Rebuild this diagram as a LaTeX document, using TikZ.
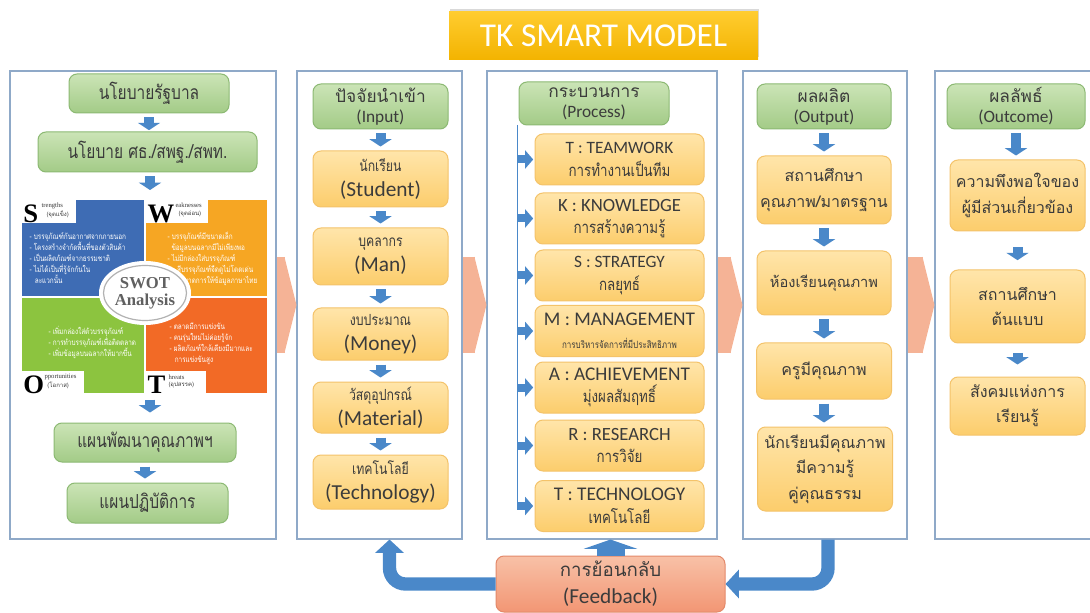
\documentclass[tikz,border=0pt]{standalone}
\usepackage{fontspec}
\setmainfont{Carlito}
\newfontfamily\thai[Script=Thai]{Loma}
\newfontfamily\thain[Script=Thai,FakeStretch=0.8]{Loma}
\newfontfamily\swotrm{Liberation Serif}
\usetikzlibrary{arrows.meta,calc,shadows}

\definecolor{panelblue}{HTML}{8FA9C8}
\definecolor{arrowblue}{HTML}{4A88C9}
\definecolor{greentop}{HTML}{CBE4B6}
\definecolor{greenbot}{HTML}{A3CB87}
\definecolor{greenline}{HTML}{8CB973}
\definecolor{orangetop}{HTML}{FFE5AA}
\definecolor{orangebot}{HTML}{FCCD6C}
\definecolor{orangeline}{HTML}{F4C36A}
\definecolor{salmon}{HTML}{F5B396}
\definecolor{fbtop}{HTML}{F8C1A7}
\definecolor{fbbot}{HTML}{F29674}
\definecolor{fbline}{HTML}{E3896A}
\definecolor{titletop}{HTML}{FFCC2F}
\definecolor{titlebot}{HTML}{F3B300}
\definecolor{txt}{HTML}{3B3B3B}
\definecolor{swotS}{HTML}{3E6CB4}
\definecolor{swotW}{HTML}{F6A623}
\definecolor{swotO}{HTML}{8CC43F}
\definecolor{swotT}{HTML}{F26A26}

\tikzset{every picture/.style={line width=0.75pt}}

\begin{document}
\begin{tikzpicture}[x=0.75pt,y=0.75pt,yscale=-1,xscale=1,
  panel/.style={draw=panelblue,fill=white,line width=0.8pt,minimum height=351pt,inner sep=0pt},
  gbox/.style={draw=greenline,top color=greentop,bottom color=greenbot,rounded corners=6pt,align=center,text=txt,inner sep=0pt},
  obox/.style={draw=orangeline,top color=orangetop,bottom color=orangebot,rounded corners=6pt,align=center,text=txt,inner sep=0pt},
  hdr/.style={gbox,font=\fontsize{13}{15}\selectfont},
  inbox/.style={obox,minimum width=101.25pt,font=\fontsize{16}{19}\selectfont},
  tkbox/.style={obox,minimum width=126.75pt,minimum height=38.25pt,font=\fontsize{14}{17}\selectfont},
  thbox/.style={obox,font=\thai\fontsize{12}{19}\selectfont},
  lbox/.style={gbox,font=\thain\fontsize{14.5}{18}\selectfont},
  dnarrow/.style={draw=arrowblue,line width=7.5pt,-{Triangle[length=5.5pt,width=16.5pt]},shorten <=3pt,shorten >=3pt},
  sidearrow/.style={draw=arrowblue,line width=6pt,-{Triangle[length=6pt,width=13.5pt]},shorten >=1pt},
  bigarrow/.style={draw=salmon,line width=72pt,-{Triangle[length=9pt,width=72pt]}},
  fbarrow/.style={draw=arrowblue,line width=10pt,-{Triangle[length=10pt,width=21pt]},rounded corners=12pt},
  uparrow/.style={draw=arrowblue,line width=21pt,-{Triangle[length=7pt,width=40pt]}},
  swottxt/.style={text=white,font=\thain\fontsize{6}{8.25}\selectfont,align=left,inner sep=0pt,anchor=north west},
  swotlet/.style={font=\swotrm\bfseries\fontsize{20}{20}\selectfont,inner sep=0pt},
  swotsub/.style={font=\swotrm\fontsize{5}{5}\selectfont,inner sep=0pt,anchor=north west,text=txt},
  swotth/.style={font=\thai\fontsize{4.5}{4.5}\selectfont,inner sep=0pt,anchor=north west,text=txt}
]
\useasboundingbox (0,0) rectangle (1090,613);

%title
\node[top color=titletop,bottom color=titlebot,text=white,font=\fontsize{25}{25}\selectfont,
  minimum width=231.75pt,minimum height=36pt,inner sep=0pt,
  drop shadow={shadow xshift=1pt,shadow yshift=2pt,opacity=0.3}] (title) at (603.5,36) {TK SMART MODEL};

%panels
\node[panel,minimum width=199.5pt] (p1) at (143,305) {};
\node[panel,minimum width=123.75pt] (p2) at (379.5,305) {};
\node[panel,minimum width=172.5pt] (p3) at (602,305) {};
\node[panel,minimum width=123pt] (p4) at (825,305) {};
\node[panel,minimum width=123.75pt] (p5) at (1017.5,305) {};

\draw[bigarrow] (p1.east) -- (p2.west);
\draw[bigarrow] (p2.east) -- (p3.west);
\draw[bigarrow] (p3.east) -- (p4.west);
\draw[bigarrow] (p4.east) -- (p5.west);

%left column
\node[lbox,minimum width=120pt,minimum height=29.25pt] (gov) at (149,93.5) {นโยบายรัฐบาล};
\node[lbox,minimum width=164.25pt,minimum height=30pt] (moe) at (147.5,152) {นโยบาย ศธ./สพฐ./สพท.};
\coordinate (swottop) at (150,200);
\coordinate (swotbot) at (150,393);
\node[lbox,minimum width=136.5pt,minimum height=29.25pt] (qplan) at (145,442.5) {แผนพัฒนาคุณภาพฯ};
\node[lbox,minimum width=120.75pt,minimum height=30pt] (aplan) at (147.5,503) {แผนปฏิบัติการ};

\draw[dnarrow,shorten >=1pt] (gov.south) -- (gov.south |- moe.north);
\draw[dnarrow,shorten >=7.5pt] (swottop |- moe.south) -- (swottop);
\draw[dnarrow,shorten <=5pt,shorten >=7.5pt] (swotbot) -- (swotbot |- qplan.north);
\draw[dnarrow] (qplan.south) -- (qplan.south |- aplan.north);

%Shape: SWOT
\fill[swotS] (22,200) rectangle (143.5,296);
\fill[swotW] (146,200) rectangle (267,296);
\fill[swotO] (22,298.5) rectangle (143.5,393);
\fill[swotT] (146,298.5) rectangle (267,393);
\fill[white] (22,200) rectangle (76,223);
\fill[white] (146,200) rectangle (208,223);
\fill[white] (22,371) rectangle (84,393.5);
\fill[white] (146,371) rectangle (206,393.5);
\fill[white] (145,293) ellipse [x radius=46, y radius=32];
\draw[gray!60,line width=0.9pt] (145,293) ellipse [x radius=41.5, y radius=27.5];
\node[font=\swotrm\bfseries\fontsize{12.5}{12.5}\selectfont,text=gray!75!black,align=center,inner sep=0pt] (swot) at (145,293) {SWOT\\Analysis};

\node[swotlet,anchor=south west] (sL) at (23,223) {S};
\node[swotsub] (sT) at (41,202) {trengths};
\node[swotth] (sTh) at (46,210) {(จุดแข็ง)};
\node[swotlet,anchor=south west] (wL) at (147,223) {W};
\node[swotsub] (wT) at (175,202) {eaknesses};
\node[swotth] (wTh) at (178,210) {(จุดอ่อน)};
\node[swotlet,anchor=south west] (oL) at (23,394) {O};
\node[swotsub] (oT) at (44,374) {pportunities};
\node[swotth] (oTh) at (47,382) {(โอกาส)};
\node[swotlet,anchor=south west] (tL) at (147,394) {T};
\node[swotsub] (tT) at (168,374) {hreats};
\node[swotth] (tTh) at (168,382) {(อุปสรรค)};

\node[swottxt] (sList) at (29,232) {- บรรจุภัณฑ์กันอากาศจากภายนอก\\- โครงสร้างจำกัดพื้นที่ของตัวสินค้า\\- เป็นผลิตภัณฑ์จากธรรมชาติ\\- ไม่ได้เป็นที่รู้จักกันใน\\\hspace{4pt}ละแวกนั้น};
\node[swottxt] (wList) at (167,232) {- บรรจุภัณฑ์มีขนาดเล็ก\\\hspace{3pt}ข้อมูลบนฉลากมีไม่เพียงพอ\\- ไม่มีกล่องใส่บรรจุภัณฑ์\\\hspace{4pt}- สีบรรจุภัณฑ์จืดดูไม่โดดเด่น\\\hspace{9pt}- ขาดการให้ข้อมูลภาษาไทย};
\node[swottxt] (oList) at (48,326) {- เพิ่มกล่องใส่ตัวบรรจุภัณฑ์\\- การทำบรรจุภัณฑ์เพื่อติดตลาด\\- เพิ่มข้อมูลบนฉลากให้มากขึ้น};
\node[swottxt] (tList) at (169,322) {- ตลาดมีการแข่งขัน\\- คนรุ่นใหม่ไม่ค่อยรู้จัก\\- ผลิตภัณฑ์ใกล้เคียงมีมากและ\\\hspace{4pt}การแข่งขันสูง};

%input column
\node[hdr,minimum width=101.25pt,minimum height=33.75pt] (inp) at (380.5,106.5) {{\thai ปัจจัยนำเข้า}\\(Input)};
\node[inbox,minimum height=42pt] (stu) at (380.5,179) {{\thain\fontsize{11.5}{11}\selectfont นักเรียน}\\(Student)};
\node[inbox,minimum height=42.75pt] (man) at (380.5,256.5) {{\thain\fontsize{11.5}{11}\selectfont บุคลากร}\\(Man)};
\node[inbox,minimum height=39pt] (mon) at (380.5,334) {{\thain\fontsize{11.5}{11}\selectfont งบประมาณ}\\(Money)};
\node[inbox,minimum height=38.25pt] (mat) at (380.5,407.5) {{\thain\fontsize{11.5}{11}\selectfont วัสดุอุปกรณ์}\\(Material)};
\node[inbox,minimum height=40.5pt] (tec) at (380.5,482) {{\thain\fontsize{11.5}{11}\selectfont เทคโนโลยี}\\(Technology)};

\draw[dnarrow] (inp) -- (stu);
\draw[dnarrow] (stu) -- (man);
\draw[dnarrow] (man) -- (mon);
\draw[dnarrow] (mon) -- (mat);
\draw[dnarrow] (mat) -- (tec);

%process column
\node[hdr,minimum width=112.5pt,minimum height=32.25pt] (pro) at (594,103.5) {{\thai กระบวนการ}\\(Process)};
\coordinate (ptop) at (517,125);
\node[tkbox,font=\fontsize{13}{17}\selectfont] (tk1) at (619.5,159.5) {T : TEAMWORK\\{\thain\fontsize{12.5}{12}\selectfont การทำงานเป็นทีม}};
\node[tkbox] (tk2) at (619.5,218.5) {K : KNOWLEDGE\\{\thain\fontsize{12.5}{12}\selectfont การสร้างความรู้}};
\node[tkbox,font=\fontsize{13}{17}\selectfont] (tk3) at (619.5,275.5) {S : STRATEGY\\{\thain\fontsize{12.5}{12}\selectfont กลยุทธ์}};
\node[tkbox,font=\fontsize{14.5}{17}\selectfont] (tk4) at (619.5,331) {M : MANAGEMENT\\{\thain\fontsize{7.5}{7}\selectfont การบริหารจัดการที่มีประสิทธิภาพ}};
\node[tkbox,font=\fontsize{14.5}{17}\selectfont] (tk5) at (619.5,387.5) {A : ACHIEVEMENT\\{\thain\fontsize{12.5}{12}\selectfont มุ่งผลสัมฤทธิ์}};
\node[tkbox] (tk6) at (619.5,445.5) {R : RESEARCH\\{\thain\fontsize{12.5}{12}\selectfont การวิจัย}};
\node[tkbox,font=\fontsize{14.5}{17}\selectfont] (tk7) at (619.5,506) {T : TECHNOLOGY\\{\thain\fontsize{12.5}{12}\selectfont เทคโนโลยี}};

\draw[arrowblue,line width=0.7pt] (ptop) -- (ptop |- tk7.west);
\draw[sidearrow] (ptop |- tk1.west) -- (tk1.west);
\draw[sidearrow] (ptop |- tk2.west) -- (tk2.west);
\draw[sidearrow] (ptop |- tk3.west) -- (tk3.west);
\draw[sidearrow] (ptop |- tk4.west) -- (tk4.west);
\draw[sidearrow] (ptop |- tk5.west) -- (tk5.west);
\draw[sidearrow] (ptop |- tk6.west) -- (tk6.west);
\draw[sidearrow] (ptop |- tk7.west) -- (tk7.west);

%output column
\node[hdr,minimum width=100.5pt,minimum height=33.75pt] (out) at (824,106.5) {{\thai ผลผลิต}\\(Output)};
\node[thbox,minimum width=100.5pt,minimum height=51pt] (o1) at (824,190) {สถานศึกษา\\คุณภาพ/มาตรฐาน};
\node[thbox,minimum width=100.5pt,minimum height=48pt,font=\thai\fontsize{11}{19}\selectfont] (o2) at (824,283) {ห้องเรียนคุณภาพ};
\node[thbox,minimum width=101.25pt,minimum height=42pt] (o3) at (824,371) {ครูมีคุณภาพ};
\node[thbox,minimum width=101.25pt,minimum height=63pt] (o4) at (825,469) {นักเรียนมีคุณภาพ\\มีความรู้\\คู่คุณธรรม};

\draw[dnarrow] (out.south) -- (out.south |- o1.north);
\draw[dnarrow] (o1.south) -- (o1.south |- o2.north);
\draw[dnarrow] (o2.south) -- (o2.south |- o3.north);
\draw[dnarrow] (o3.south) -- (o3.south |- o4.north);

%outcome column
\node[hdr,minimum width=103.5pt,minimum height=33.75pt] (res) at (1016,106.5) {{\thai ผลลัพธ์}\\(Outcome)};
\node[thbox,minimum width=101.25pt,minimum height=53.25pt] (r1) at (1017.5,195.5) {ความพึงพอใจของ\\ผู้มีส่วนเกี่ยวข้อง};
\node[thbox,minimum width=101.25pt,minimum height=54.75pt] (r2) at (1017.5,306.5) {สถานศึกษา\\ต้นแบบ};
\node[thbox,minimum width=101.25pt,minimum height=43.5pt] (r3) at (1017.5,406) {สังคมแห่งการ\\เรียนรู้};

\draw[dnarrow] (res.south) -- (res.south |- r1.north);
\draw[dnarrow,shorten <=12pt,shorten >=7pt] (r1) -- (r2);
\draw[dnarrow,shorten <=7pt,shorten >=9pt] (r2) -- (r3);

%feedback
\node[draw=fbline,top color=fbtop,bottom color=fbbot,rounded corners=6pt,text=txt,align=center,
  minimum width=171.75pt,minimum height=42pt,inner sep=0pt,font=\fontsize{16}{20}\selectfont] (fb) at (610.5,584) {{\thai\fontsize{14}{14}\selectfont การย้อนกลับ}\\(Feedback)};
\draw[uparrow] (fb.north) -- (fb.north |- p3.south);
\draw[fbarrow] (fb.west) -| ($(p2.south)+(10,0)$);
\draw[fbarrow] ($(p4.south)+(3,0)$) |- (fb.east);

\end{tikzpicture}
\end{document}
